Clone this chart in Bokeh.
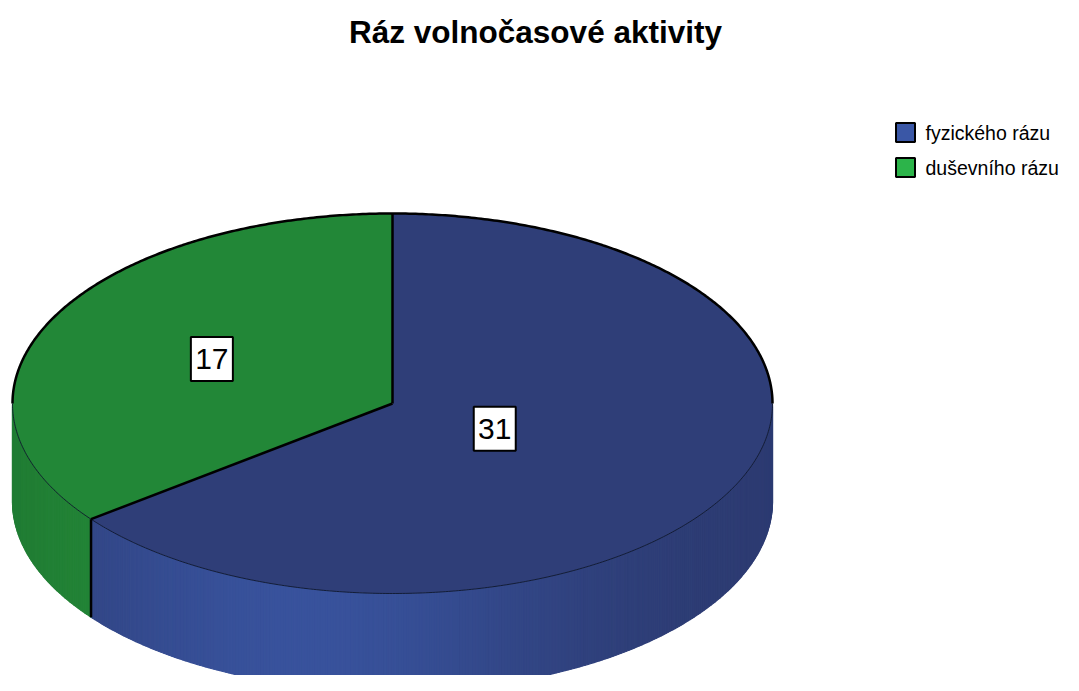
import math
from bokeh.plotting import figure
from bokeh.models import Range1d
from bokeh.core.properties import value
from bokeh.embed import file_html
from bokeh.resources import INLINE

# ---- data ----
title_text = "Ráz volnočasové aktivity"
categories = ["fyzického rázu", "duševního rázu"]
counts = [31, 17]
top_colors = ["#2f3e78", "#228737"]
side_dark = [(44, 58, 112), (30, 116, 48)]
side_bright = [(56, 82, 156), (38, 146, 60)]
legend_colors = ["#3a57a6", "#2cb44a"]
label_radius = [0.30, 0.53]

# ---- layout (screen pixel space) ----
CX, CY, RX, RY, DEPTH = 392.0, 403.0, 380.0, 190.0, 98.0
FONT = value("Liberation Sans")

p = figure(width=1063, height=675, output_backend="svg", toolbar_location=None,
           x_range=Range1d(0, 1063), y_range=Range1d(675, 0), min_border=0,
           tools="")
p.axis.visible = False
p.grid.visible = False
p.outline_line_color = None
p.background_fill_color = "white"


def pt(t):
    r = math.radians(t)
    return CX + RX * math.sin(r), CY - RY * math.cos(r)


total = float(sum(counts))
starts, ends = [], []
acc = 0.0
for c in counts:
    starts.append(acc * 360.0 / total)
    acc += c
    ends.append(acc * 360.0 / total)


def shade(x, k):
    f = math.exp(-((x - 300.0) / 260.0) ** 2)
    d, b = side_dark[k], side_bright[k]
    rgb = [int(round(d[i] + (b[i] - d[i]) * f)) for i in range(3)]
    return "#%02x%02x%02x" % tuple(rgb)


# ---- side walls (front half: 90..270 deg clockwise from top) ----
sxs, sys_, scol = [], [], []
for k in range(len(counts)):
    a0 = max(starts[k], 90.0)
    a1 = min(ends[k], 270.0)
    if a1 <= a0:
        continue
    n = max(2, int((a1 - a0) * 2))
    for i in range(n):
        t0 = a0 + (a1 - a0) * i / n
        t1 = a0 + (a1 - a0) * (i + 1) / n
        x0, y0 = pt(t0)
        x1, y1 = pt(t1)
        sxs.append([x0, x1, x1, x0])
        sys_.append([y0, y1, y1 + DEPTH, y0 + DEPTH])
        scol.append(shade((x0 + x1) / 2, k))
p.patches(sxs, sys_, fill_color=scol, line_color=scol, line_width=1.2)

# ---- top slices ----
for k in range(len(counts)):
    n = int((ends[k] - starts[k]) * 2) + 2
    xs, ys = [CX], [CY]
    for i in range(n + 1):
        x, y = pt(starts[k] + (ends[k] - starts[k]) * i / n)
        xs.append(x)
        ys.append(y)
    p.patch(xs, ys, fill_color=top_colors[k], line_color=None)

# ---- outlines ----
back = [pt(270 + 180 * i / 360.0) for i in range(361)]
p.line([q[0] for q in back], [q[1] for q in back], line_color="black", line_width=2.5)
front = [pt(90 + 180 * i / 360.0) for i in range(361)]
p.line([q[0] for q in front], [q[1] for q in front], line_color="#10182e", line_width=0.9)
for k in range(len(counts)):
    x, y = pt(starts[k])
    p.line([CX, x], [CY, y], line_color="black", line_width=2.5)
    if 90.0 < starts[k] < 270.0:
        p.line([x, x], [y, y + DEPTH], line_color="black", line_width=2.5)

# ---- value labels ----
lx, ly, lt = [], [], []
for k in range(len(counts)):
    mid = (starts[k] + ends[k]) / 2.0
    r = math.radians(mid)
    lx.append(CX + RX * label_radius[k] * math.sin(r))
    ly.append(CY - RY * label_radius[k] * math.cos(r))
    lt.append(str(counts[k]))
p.rect(lx, ly, width=42, height=44, fill_color="white", line_color="black", line_width=2)
p.text(lx, ly, text=lt, text_font=FONT, text_font_size="30px", text_align="center",
       text_baseline="middle", text_color="black")

# ---- title ----
p.text([535], [31], text=[title_text], text_font=FONT, text_font_size="31.5px",
       text_font_style="bold", text_align="center", text_baseline="middle",
       text_color="black")

# ---- legend ----
leg_y = [132 + 35 * i for i in range(len(categories))]
p.rect([905] * len(categories), leg_y, width=19, height=19, fill_color=legend_colors,
       line_color="black", line_width=2)
p.text([925] * len(categories), leg_y, text=categories, text_font=FONT,
       text_font_size="19.5px", text_align="left", text_baseline="middle",
       text_color="black")

open("out.html", "w").write(file_html(p, INLINE))
